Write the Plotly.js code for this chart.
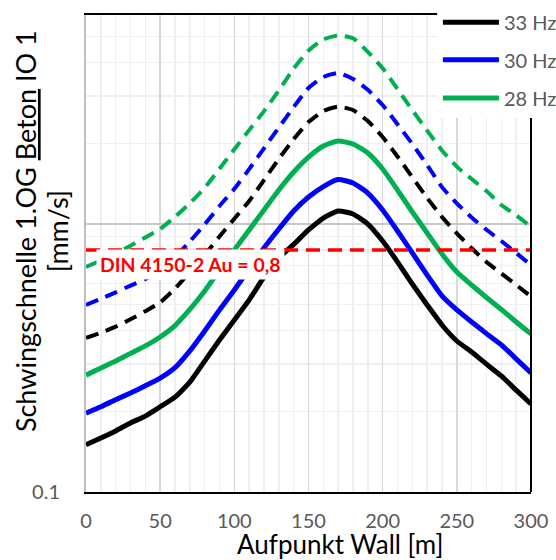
<!DOCTYPE html>
<html>
<head>
<meta charset="utf-8">
<script src="https://cdn.plot.ly/plotly-3.0.1.min.js"></script>
<style>html,body{margin:0;padding:0;background:#fff;}#chart{width:556px;height:560px;}</style>
</head>
<body>
<div id="chart"></div>
<script>
// Aufpunkt Wall [m]
const distance = [0,10,20,30,40,50,60,70,80,90,100,110,120,130,140,150,160,170,180,190,200,210,220,230,240,250,260,270,280,290,300];

// Solid lines (legend series)
const v33 = [0.150,0.159,0.169,0.181,0.192,0.208,0.226,0.257,0.308,0.369,0.438,0.521,0.634,0.747,0.840,0.950,1.053,1.118,1.090,1.000,0.864,0.722,0.597,0.499,0.420,0.366,0.333,0.300,0.271,0.240,0.213];
const v30 = [0.197,0.208,0.221,0.234,0.249,0.266,0.291,0.336,0.399,0.478,0.567,0.680,0.814,0.958,1.118,1.261,1.380,1.466,1.422,1.305,1.128,0.942,0.780,0.645,0.539,0.478,0.431,0.390,0.354,0.314,0.278];
const v28 = [0.273,0.290,0.308,0.329,0.351,0.379,0.418,0.480,0.562,0.674,0.800,0.950,1.128,1.339,1.563,1.778,1.955,2.040,1.989,1.840,1.604,1.339,1.109,0.926,0.773,0.662,0.592,0.532,0.480,0.431,0.389];

// Dashed lines (no legend entry)
const v33dash = [0.376,0.393,0.414,0.441,0.473,0.510,0.574,0.661,0.766,0.898,1.046,1.218,1.459,1.750,2.074,2.402,2.641,2.744,2.663,2.423,2.112,1.787,1.494,1.251,1.062,0.923,0.812,0.721,0.654,0.593,0.536];
const v30dash = [0.499,0.526,0.556,0.589,0.623,0.674,0.753,0.861,0.996,1.167,1.353,1.603,1.917,2.291,2.731,3.217,3.537,3.660,3.479,3.167,2.780,2.357,1.989,1.660,1.373,1.195,1.058,0.952,0.864,0.780,0.703];
const v28dash = [0.691,0.731,0.773,0.830,0.891,0.958,1.064,1.194,1.365,1.608,1.900,2.241,2.638,3.151,3.801,4.436,4.889,5.051,4.931,4.390,3.811,3.187,2.663,2.231,1.882,1.637,1.472,1.327,1.178,1.078,0.977];

// DIN 4150-2 reference value
const dinX = [0, 300];
const dinY = [0.8, 0.8];
const dinLabel = 'DIN 4150-2 Au = 0,8';

const seriesNames = ['33 Hz', '30 Hz', '28 Hz'];
const seriesColors = ['#000000', '#0000FF', '#00B050'];

const xTickVals = [0, 50, 100, 150, 200, 250, 300];
const yTickVals = [0.1, 1];
const yTickText = ['0.1', ''];
const yMinorVals = [0.2,0.3,0.4,0.5,0.6,0.7,0.8,0.9,2,3,4,5,6];

const FONT = 'Lato, "Open Sans", "Liberation Sans", sans-serif';

const solidData = [v33, v30, v28];
const dashData = [v33dash, v30dash, v28dash];

const traces = [];
dashData.forEach((ys, i) => {
  traces.push({
    x: distance, y: ys, type: 'scatter', mode: 'lines',
    name: seriesNames[i] + ' (gestrichelt)', showlegend: false,
    line: {color: seriesColors[i], width: 4, dash: '13px,8px', shape: 'spline', smoothing: 0.5}
  });
});
solidData.forEach((ys, i) => {
  traces.push({
    x: distance, y: ys, type: 'scatter', mode: 'lines',
    name: seriesNames[i], showlegend: false,
    line: {color: seriesColors[i], width: 5, shape: 'spline', smoothing: 0.5}
  });
});
traces.push({
  x: dinX, y: dinY, type: 'scatter', mode: 'lines', name: dinLabel, showlegend: false,
  line: {color: '#FF0000', width: 3.5, dash: '14px,8px'}
});

// legend geometry (paper coords)
const legX0 = 0.802, legX1 = 0.928, legTextX = 0.935;
const legY = [0.985, 0.906, 0.826];

const shapes = [
  // right border
  {type: 'line', xref: 'paper', yref: 'paper', x0: 1, x1: 1, y0: 0, y1: 1, line: {color: '#000000', width: 2}, layer: 'above'},
  // legend background
  {type: 'rect', xref: 'paper', yref: 'paper', x0: 0.789, x1: 1.1, y0: 0.784, y1: 1.1, fillcolor: '#ffffff', line: {width: 0}, layer: 'above'}
];
const annotations = [];
seriesNames.forEach((nm, i) => {
  shapes.push({type: 'line', xref: 'paper', yref: 'paper', x0: legX0, x1: legX1, y0: legY[i], y1: legY[i],
    line: {color: seriesColors[i], width: 5}, layer: 'above'});
  annotations.push({xref: 'paper', yref: 'paper', x: legTextX, y: legY[i], xanchor: 'left', yanchor: 'middle',
    text: nm, showarrow: false, font: {family: FONT, size: 20, color: '#595959'}});
});

annotations.push({xref: 'paper', yref: 'paper', x: 0.234, y: 0.476, xanchor: 'center', yanchor: 'middle',
  text: '<b>' + dinLabel + '</b>', showarrow: false, bgcolor: '#ffffff', borderpad: 3,
  font: {family: FONT, size: 19.5, color: '#FF0000'}});

annotations.push({xref: 'paper', yref: 'paper', x: -0.137, y: 0.547, xanchor: 'center', yanchor: 'middle',
  textangle: -90, text: 'Schwingschnelle 1.OG <u>Beton</u> IO 1', showarrow: false,
  font: {family: FONT, size: 27, color: '#000000'}});
annotations.push({xref: 'paper', yref: 'paper', x: -0.065, y: 0.547, xanchor: 'center', yanchor: 'middle',
  textangle: -90, text: '[mm/s]', showarrow: false,
  font: {family: FONT, size: 27, color: '#000000'}});
annotations.push({xref: 'paper', yref: 'paper', x: 0.571, y: -0.109, xanchor: 'center', yanchor: 'middle',
  text: 'Aufpunkt Wall [m]', showarrow: false,
  font: {family: FONT, size: 26, color: '#000000'}});

const layout = {
  width: 556, height: 560,
  margin: {l: 86, r: 25, t: 15, b: 68, pad: 0},
  paper_bgcolor: '#ffffff', plot_bgcolor: '#ffffff',
  showlegend: false,
  font: {family: FONT},
  xaxis: {
    range: [0, 300], tickmode: 'array', tickvals: xTickVals,
    ticks: '', showline: true, linecolor: '#000000', linewidth: 2, mirror: true,
    showgrid: true, gridcolor: '#d9d9d9', gridwidth: 1.5, zeroline: false,
    tickfont: {family: FONT, size: 20, color: '#595959'}, ticklabelstandoff: 10,
    minor: {dtick: 10, tick0: 0, showgrid: true, gridcolor: '#efefef', gridwidth: 1.5, ticks: ''}
  },
  yaxis: {
    type: 'log', range: [-1, 0.78], tickmode: 'array', tickvals: yTickVals, ticktext: yTickText,
    ticks: '', showline: true, linecolor: '#bfbfbf', linewidth: 2, mirror: false,
    showgrid: true, gridcolor: '#c8c8c8', gridwidth: 1.5, zeroline: false,
    tickfont: {family: FONT, size: 20, color: '#595959'}, ticklabelstandoff: 20,
    minor: {tickmode: 'array', tickvals: yMinorVals, showgrid: true, gridcolor: '#efefef', gridwidth: 1.5, ticks: ''}
  },
  shapes: shapes,
  annotations: annotations
};

Plotly.newPlot('chart', traces, layout, {staticPlot: true, displayModeBar: false});
</script>
</body>
</html>
